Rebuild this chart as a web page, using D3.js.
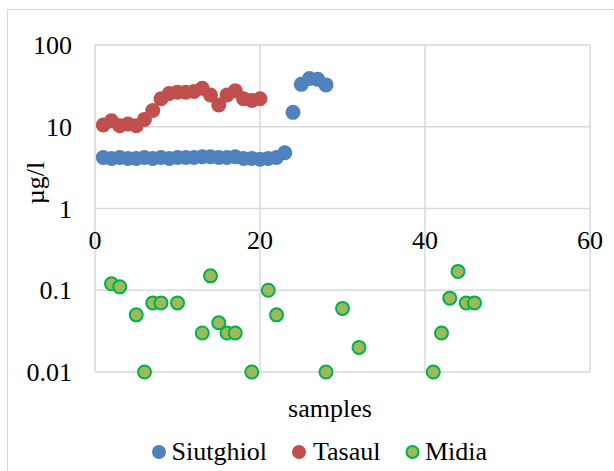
<!DOCTYPE html>
<html><head><meta charset="utf-8">
<script src="https://cdn.jsdelivr.net/npm/d3@7"></script>
<style>html,body{margin:0;padding:0;background:#fff}svg{display:block}
svg text{font-family:"Liberation Serif","Times New Roman",serif !important;}</style>
</head><body>
<script>
const xTicks = [0, 20, 40, 60];
const yTicks = [0.01, 0.1, 1, 10, 100];
const yTickLabels = ["0.01", "0.1", "1", "10", "100"];
const siutghiolX = d3.range(1, 29);
const siutghiolY = [4.2,4.1,4.2,4.1,4.1,4.2,4.1,4.2,4.1,4.2,4.2,4.2,4.3,4.3,4.2,4.2,4.3,4.1,4.1,4.0,4.1,4.2,4.8,15,33,39,38,32.5];
const tasaulX = d3.range(1, 21);
const tasaulY = [10.5,11.8,10.3,10.8,10.3,12.3,15.8,22,25.6,26.5,26.5,27,29.5,24.5,18.5,24.5,27.5,22,21,22];
const midiaX = [2,3,5,6,7,8,10,13,14,15,16,17,19,21,22,28,30,32,41,42,43,44,45,46];
const midiaY = [0.12,0.11,0.05,0.01,0.07,0.07,0.07,0.03,0.15,0.04,0.03,0.03,0.01,0.1,0.05,0.01,0.06,0.02,0.01,0.03,0.08,0.17,0.07,0.07];
const seriesNames = ["Siutghiol", "Tasaul", "Midia"];

const W = 614, H = 471;
const svg = d3.select("body").append("svg").attr("width", W).attr("height", H);
svg.append("rect").attr("x", 7.5).attr("y", 9.5).attr("width", 620).attr("height", 480)
  .attr("fill", "#fff").attr("stroke", "#d9d9d9").attr("stroke-width", 1.2);

const x = d3.scaleLinear().domain([0, 60]).range([95, 590]);
const y = d3.scaleLog().domain([0.01, 100]).range([372, 45]);
const grid = "#d9d9d9";

const g = svg.append("g");
g.selectAll(".hg").data(yTicks).enter().append("line")
  .attr("x1", x(0)).attr("x2", x(60)).attr("y1", d => y(d)).attr("y2", d => y(d))
  .attr("stroke", grid).attr("stroke-width", 1.5);
g.selectAll(".vg").data(xTicks).enter().append("line")
  .attr("x1", d => x(d)).attr("x2", d => x(d)).attr("y1", y(100)).attr("y2", y(0.01))
  .attr("stroke", grid).attr("stroke-width", 1.5);

function txt(sel) {
  return sel.attr("font-family", "Liberation Serif").attr("fill", "#000").attr("font-size", 26)
    .style("font-family", '"Liberation Serif"');
}

g.selectAll(".yl").data(yTicks).enter().append("text").call(txt)
  .attr("x", 72).attr("y", d => y(d) + 9).attr("text-anchor", "end")
  .text((d, i) => yTickLabels[i]);
g.selectAll(".xl").data(xTicks).enter().append("text").call(txt)
  .attr("x", d => x(d)).attr("y", y(1) + 40).attr("text-anchor", "middle")
  .text(d => d);

svg.append("text").call(txt).attr("transform", "translate(44,183) rotate(-90)")
  .attr("text-anchor", "middle").text("µg/l");
svg.append("text").call(txt).attr("x", 330).attr("y", 417).attr("text-anchor", "middle")
  .text("samples");

const blue = "#4F81BD", red = "#C0504D", green = "#9BBB59", greenS = "#00B050";
g.selectAll(".s").data(siutghiolX).enter().append("circle")
  .attr("cx", d => x(d)).attr("cy", (d, i) => y(siutghiolY[i])).attr("r", 7.5).attr("fill", blue);
g.selectAll(".t").data(tasaulX).enter().append("circle")
  .attr("cx", d => x(d)).attr("cy", (d, i) => y(tasaulY[i])).attr("r", 7.5).attr("fill", red);
g.selectAll(".m").data(midiaX).enter().append("circle")
  .attr("cx", d => x(d)).attr("cy", (d, i) => y(midiaY[i])).attr("r", 6.5)
  .attr("fill", green).attr("stroke", greenS).attr("stroke-width", 2);

const leg = [
  {name: seriesNames[0], cx: 159, tx: 171.5, fill: blue, stroke: "none"},
  {name: seriesNames[1], cx: 299, tx: 313, fill: red, stroke: "none"},
  {name: seriesNames[2], cx: 412.5, tx: 425, fill: green, stroke: greenS}
];
const lg = svg.append("g");
leg.forEach(l => {
  lg.append("circle").attr("cx", l.cx).attr("cy", 452).attr("r", l.stroke === "none" ? 7 : 6)
    .attr("fill", l.fill).attr("stroke", l.stroke).attr("stroke-width", 2);
  lg.append("text").call(txt).attr("x", l.tx).attr("y", 460).text(l.name);
});
</script>
</body></html>
